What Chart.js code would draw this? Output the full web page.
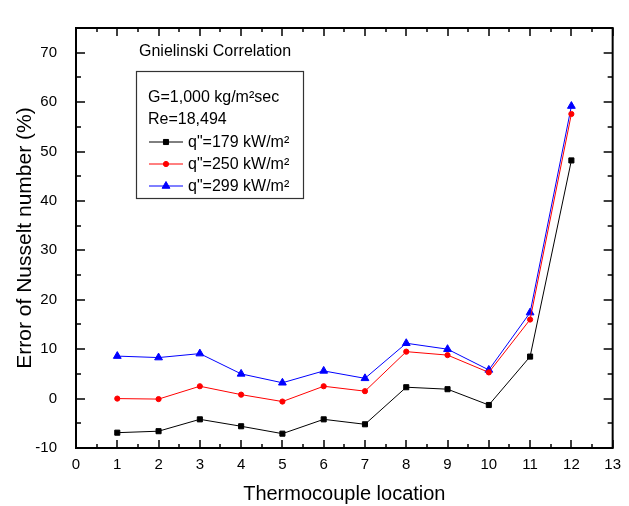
<!DOCTYPE html>
<html>
<head>
<meta charset="utf-8">
<script src="https://cdn.jsdelivr.net/npm/chart.js@4/dist/chart.umd.min.js"></script>
<style>
html,body{margin:0;padding:0;background:#fff;}
#wrap{width:629px;height:506px;}
</style>
</head>
<body>
<div id="wrap"><canvas id="c" width="629" height="506"></canvas></div>
<script>
const locations = [1,2,3,4,5,6,7,8,9,10,11,12];
const q179 = [-6.9,-6.6,-4.2,-5.6,-7.1,-4.2,-5.2,2.3,1.9,-1.3,8.5,48.2];
const q250 = [0.0,-0.1,2.5,0.8,-0.6,2.5,1.5,9.5,8.8,5.3,16.0,57.6];
const q299 = [8.6,8.3,9.1,5.0,3.2,5.6,4.1,11.2,10.0,5.8,17.4,59.2];
const seriesLabels = ['q"=179 kW/m²','q"=250 kW/m²','q"=299 kW/m²'];
const yTicks = [-10,0,10,20,30,40,50,60,70];
const xTicks = [0,1,2,3,4,5,6,7,8,9,10,11,12,13];
const legendTitle = 'Gnielinski Correlation';
const infoLines = ['G=1,000 kg/m²sec','Re=18,494'];
const xTitle = 'Thermocouple location';
const yTitle = 'Error of Nusselt number (%)';

const FONT = 'Arial, "Liberation Sans", sans-serif';

function pts(vals){ return locations.map((x,i)=>({x:x,y:vals[i]})); }

const frame = {
  id:'frame',
  afterDraw(chart){
    const ctx = chart.ctx, a = chart.chartArea;
    const xs = chart.scales.x, ys = chart.scales.y;
    ctx.save();
    ctx.strokeStyle = '#000';
    ctx.lineWidth = 2;
    ctx.strokeRect(a.left, a.top, a.right - a.left, a.bottom - a.top);
    ctx.lineWidth = 1.5;
    ctx.beginPath();
    for (let v = 0; v <= 13; v += 0.5) {
      const px = Math.round(xs.getPixelForValue(v));
      const len = (v % 1 === 0) ? 8 : 4;
      ctx.moveTo(px, a.bottom); ctx.lineTo(px, a.bottom - len);
      ctx.moveTo(px, a.top); ctx.lineTo(px, a.top + len);
    }
    for (let v = -10; v <= 75; v += 5) {
      const py = Math.round(ys.getPixelForValue(v));
      const len = (v % 10 === 0) ? 9 : 5;
      ctx.moveTo(a.left, py); ctx.lineTo(a.left + len, py);
      ctx.moveTo(a.right, py); ctx.lineTo(a.right - len, py);
    }
    ctx.stroke();

    // legend
    ctx.fillStyle = '#000';
    ctx.font = '16px ' + FONT;
    ctx.textBaseline = 'middle';
    ctx.textAlign = 'left';
    ctx.fillText(legendTitle, 139, 52);
    ctx.lineWidth = 1.2;
    ctx.strokeStyle = '#333';
    ctx.strokeRect(136.5, 71.5, 167, 127);
    ctx.fillText(infoLines[0], 148, 98);
    ctx.fillText(infoLines[1], 148, 120);
    const rows = [142, 164, 186];
    chart.data.datasets.forEach((ds, i) => {
      const y = rows[i];
      ctx.strokeStyle = ds.borderColor;
      ctx.fillStyle = ds.borderColor;
      ctx.lineWidth = 1;
      ctx.beginPath(); ctx.moveTo(149, y); ctx.lineTo(183, y); ctx.stroke();
      Chart.helpers.drawPoint(ctx, {pointStyle: ds.pointStyle, radius: ds.pointRadius, rotation: 0, borderWidth: 1}, 166, y);
      ctx.fillStyle = '#000';
      ctx.fillText(ds.label, 188, y + 1);
    });
    ctx.restore();
  }
};

const ds = (label, vals, color, style, r) => ({
  label: label, data: pts(vals), borderColor: color, backgroundColor: color,
  borderWidth: 1, pointStyle: style, pointRadius: r, pointHoverRadius: r,
  pointBorderColor: color, pointBackgroundColor: color, tension: 0, clip: false
});

new Chart(document.getElementById('c'), {
  type: 'line',
  data: { datasets: [
    ds(seriesLabels[0], q179, '#000000', 'rect', 3.6),
    ds(seriesLabels[1], q250, '#ff0000', 'circle', 2.6),
    ds(seriesLabels[2], q299, '#0000ff', 'triangle', 4.5)
  ]},
  options: {
    responsive: false, animation: false, devicePixelRatio: 1,
    layout: { padding: { top: 10, right: 14, left: 0, bottom: 0 } },
    plugins: { legend: { display: false }, tooltip: { enabled: false } },
    scales: {
      x: {
        type: 'linear', min: 0, max: 13,
        afterBuildTicks: s => { s.ticks = xTicks.map(v => ({value: v})); },
        afterFit: s => { s.height = 58; },
        grid: { display: false, drawTicks: false },
        border: { display: false },
        ticks: { padding: 8, color: '#000', font: { family: FONT, size: 15 }, maxRotation: 0, autoSkip: false },
        title: { display: true, text: xTitle, color: '#000', font: { family: FONT, size: 20 }, padding: { top: 0, bottom: 0 } }
      },
      y: {
        type: 'linear', min: -10, max: 75,
        afterBuildTicks: s => { s.ticks = yTicks.map(v => ({value: v})); },
        afterFit: s => { s.width = 76; },
        grid: { display: false, drawTicks: false },
        border: { display: false },
        ticks: { padding: 19, color: '#000', font: { family: FONT, size: 15 }, autoSkip: false },
        title: { display: true, text: yTitle, color: '#000', font: { family: FONT, size: 21 }, padding: { top: 13, bottom: 0 } }
      }
    }
  },
  plugins: [frame]
});
</script>
</body>
</html>
